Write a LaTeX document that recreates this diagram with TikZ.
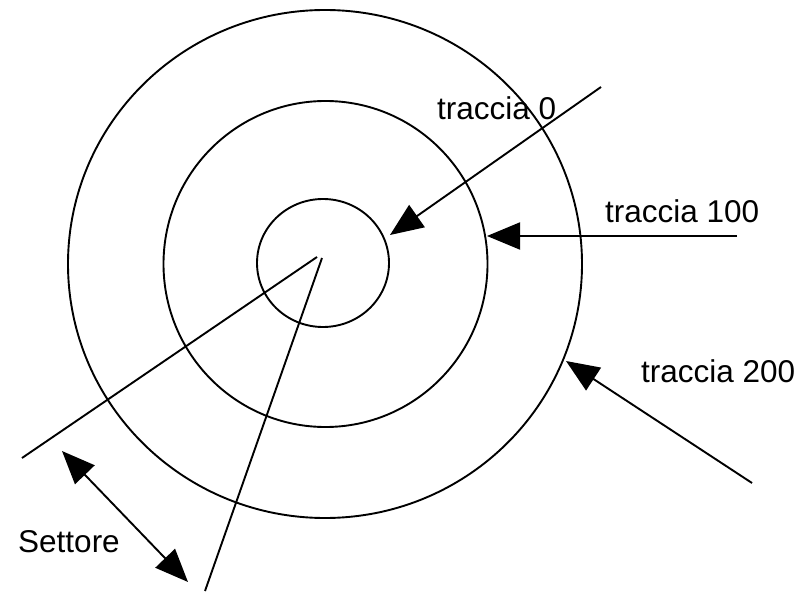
\documentclass[tikz,border=0pt]{standalone}
\usepackage{fontspec}
\setmainfont{Liberation Sans}
\usetikzlibrary{arrows.meta}
\begin{document}
\begin{tikzpicture}[x=1bp,y=-1bp,
  ln/.style={line width=1.9bp, black},
  ring/.style={ln},
  arr/.style={ln, -{Triangle[length=33bp,width=27bp]}},
  darr/.style={ln, {Triangle[length=33bp,width=27bp]}-{Triangle[length=33bp,width=27bp]}},
  lbl/.style={font=\fontsize{31.5bp}{36bp}\selectfont, inner sep=0pt, anchor=base west}]
\useasboundingbox (0,0) rectangle (812,592);
% rings
\draw[ring] (325,264) ellipse [x radius=257, y radius=254];
\draw[ring] (325.5,264) ellipse [x radius=162, y radius=163];
\draw[ring] (323,263) ellipse [x radius=66, y radius=64];
% sector lines
\coordinate (c1) at (317,257);
\coordinate (c2) at (322,258);
\coordinate (s1) at (22,458);
\coordinate (s2) at (205,591);
\draw[ln] (c1) -- (s1);
\draw[ln] (c2) -- (s2);
% labels
\node[lbl] (t0) at (437,120) {traccia 0};
\node[lbl] (t100) at (605,223) {traccia 100};
\node[lbl] (t200) at (641,382) {traccia 200};
\node[lbl] (set) at (18,552) {Settore};
% arrows
\coordinate (a0s) at (601,87);
\coordinate (a0e) at (390,235);
\coordinate (a1s) at (737,236);
\coordinate (a1e) at (487,236);
\coordinate (a2s) at (752,483);
\coordinate (a2e) at (566,361);
\coordinate (d1) at (62,451);
\coordinate (d2) at (188,582);
\draw[arr] (a0s) -- (a0e);
\draw[arr] (a1s) -- (a1e);
\draw[arr] (a2s) -- (a2e);
\draw[darr] (d1) -- (d2);
\end{tikzpicture}
\end{document}
